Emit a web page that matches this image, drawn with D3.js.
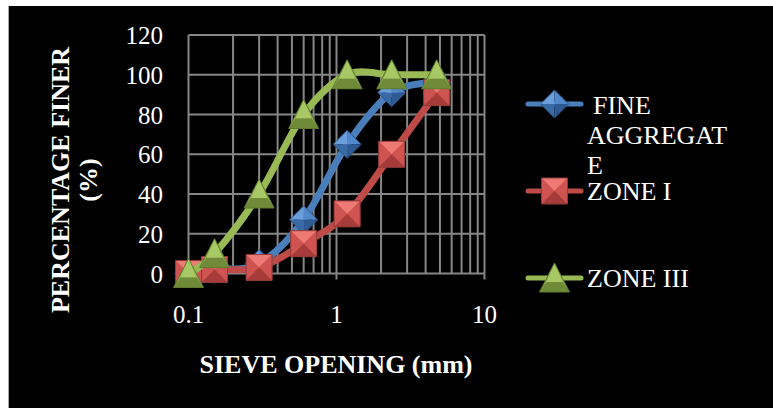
<!DOCTYPE html>
<html><head><meta charset="utf-8">
<script src="https://cdn.jsdelivr.net/npm/d3@7"></script>
<style>body{margin:0;background:#fff}svg{display:block}text{font-family:"Liberation Serif","Times New Roman",serif;fill:#fff}</style>
</head><body><svg id="c" width="773" height="408"></svg>
<script>
const sieveSizes = [0.1, 0.15, 0.3, 0.6, 1.18, 2.36, 4.75];
const fineAggregate = [0, 2, 5, 27, 65, 91, 96];
const zoneI = [0, 2, 3, 15, 30, 60, 91];
const zoneIII = [0, 10, 40, 80, 100, 100, 100];
const seriesNames = ["FINE AGGREGATE", "ZONE I", "ZONE III"];
const xTicks = [0.1, 1, 10];
const yTicks = [0, 20, 40, 60, 80, 100, 120];

const svg = d3.select("#c");
svg.append("rect").attr("x",8).attr("y",6).attr("width",765).attr("height",402).attr("fill","#000");
svg.append("line").attr("x1",8.5).attr("x2",8.5).attr("y1",6).attr("y2",408).attr("stroke","#aaa").attr("stroke-width",1);

const x = d3.scaleLog().domain([0.1,10]).range([188.5,484.5]);
const y = d3.scaleLinear().domain([0,120]).range([273.5,35]);

const grid = svg.append("g").attr("stroke","#868686").attr("stroke-width",2);
const minor = [];
[0.1,1].forEach(d=>{for(let k=1;k<=9;k++) minor.push(d*k);});
minor.push(10);
grid.selectAll("line.v").data(minor).join("line")
  .attr("x1",d=>x(d)).attr("x2",d=>x(d)).attr("y1",y(120)).attr("y2",y(0));
grid.selectAll("line.h").data(yTicks).join("line")
  .attr("x1",x(0.1)).attr("x2",x(10)).attr("y1",d=>y(d)).attr("y2",d=>y(d));
grid.selectAll("line.t").data(xTicks).join("line")
  .attr("x1",d=>x(d)).attr("x2",d=>x(d)).attr("y1",y(0)).attr("y2",y(0)+6);

svg.append("g").selectAll("text").data(yTicks).join("text")
  .attr("x",163).attr("y",d=>y(d)).attr("dy","0.36em").attr("text-anchor","end")
  .attr("font-size",25).text(d=>d);
svg.append("g").selectAll("text").data(xTicks).join("text")
  .attr("x",d=>x(d)).attr("y",323).attr("text-anchor","middle")
  .attr("font-size",25).text(d=>d);

svg.append("text").attr("x",336).attr("y",373).attr("text-anchor","middle")
  .attr("font-size",26).attr("font-weight","bold").text("SIEVE OPENING (mm)");
const yt = svg.append("text").attr("transform","translate(0,180) rotate(-90)")
  .attr("text-anchor","middle").attr("font-size",26).attr("font-weight","bold");
yt.append("tspan").attr("x",0).attr("y",69).text("PERCENTAGE FINER");
yt.append("tspan").attr("x",0).attr("y",97).text("(%)");

const colors = ["#4a7ebb","#be4b48","#98b954"];
const shapes = ["diamond","square","triangle"];
const data = [fineAggregate, zoneI, zoneIII];

function marker(g, shape, cx, cy){
  const p = pts => pts.map(q=>q.join(",")).join(" ");
  if(shape==="square"){
    const h=13;
    const A=[cx-h,cy-h],B=[cx+h,cy-h],C=[cx+h,cy+h],D=[cx-h,cy+h];
    g.append("polygon").attr("points",p([A,B,C,D])).attr("fill","#c0504d");
    g.append("polygon").attr("points",p([A,B,[cx,cy]])).attr("fill","#ee7a76");
    g.append("polygon").attr("points",p([B,C,[cx,cy]])).attr("fill","#cf5350");
    g.append("polygon").attr("points",p([D,A,[cx,cy]])).attr("fill","#cf5350");
    g.append("polygon").attr("points",p([C,D,[cx,cy]])).attr("fill","#a53c39");
    g.append("polygon").attr("points",p([A,B,C,D])).attr("fill","none").attr("stroke","#8e3a38").attr("stroke-width",1);
  } else if(shape==="diamond"){
    const h=14;
    const T=[cx,cy-h],R=[cx+h,cy],B=[cx,cy+h],L=[cx-h,cy];
    g.append("polygon").attr("points",p([T,[cx,cy],L])).attr("fill","#6a9edc");
    g.append("polygon").attr("points",p([T,R,[cx,cy]])).attr("fill","#5189cc");
    g.append("polygon").attr("points",p([L,[cx,cy],B])).attr("fill","#3a6aa6");
    g.append("polygon").attr("points",p([[cx,cy],R,B])).attr("fill","#2f5b94");
    g.append("polygon").attr("points",p([T,R,B,L])).attr("fill","none").attr("stroke","#2c5687").attr("stroke-width",1);
  } else {
    const w=15, top=cy-15, bot=cy+14;
    const T=[cx,top],R=[cx+w,bot],L=[cx-w,bot];
    const iy=cy+4;
    const iL=[cx-8,iy],iR=[cx+8,iy];
    g.append("polygon").attr("points",p([T,R,L])).attr("fill","#8fb04c");
    g.append("polygon").attr("points",p([T,iR,iL])).attr("fill","#a8c865");
    g.append("polygon").attr("points",p([iL,iR,R,L])).attr("fill","#6f8a38");
    g.append("polygon").attr("points",p([T,R,L])).attr("fill","none").attr("stroke","#5f7a2e").attr("stroke-width",1);
  }
}

const line = d3.line().x(d=>x(d[0])).y(d=>y(d[1])).curve(d3.curveCatmullRom.alpha(0));
data.forEach((vals,si)=>{
  const pts = sieveSizes.map((s,i)=>[s,vals[i]]);
  const g = svg.append("g");
  g.append("path").attr("d",line(pts)).attr("fill","none").attr("stroke",colors[si])
    .attr("stroke-width",7).attr("stroke-linejoin","round").attr("stroke-linecap","round");
  pts.forEach(d=>marker(g,shapes[si],x(d[0]),y(d[1])));
});

// legend
const lg = svg.append("g");
const legY = [104, 191, 278];
legY.forEach((ly,i)=>{
  lg.append("line").attr("x1",528).attr("x2",581).attr("y1",ly).attr("y2",ly)
    .attr("stroke",colors[i]).attr("stroke-width",5).attr("stroke-linecap","round");
  marker(lg,shapes[i],554.5,ly);
});
lg.append("text").attr("x",593).attr("y",114).attr("font-size",26).text("FINE");
lg.append("text").attr("x",587).attr("y",144).attr("font-size",26).text("AGGREGAT");
lg.append("text").attr("x",587).attr("y",174).attr("font-size",26).text("E");
lg.append("text").attr("x",587).attr("y",200).attr("font-size",26).text(seriesNames[1]);
lg.append("text").attr("x",587).attr("y",287).attr("font-size",26).text(seriesNames[2]);
</script></body></html>
